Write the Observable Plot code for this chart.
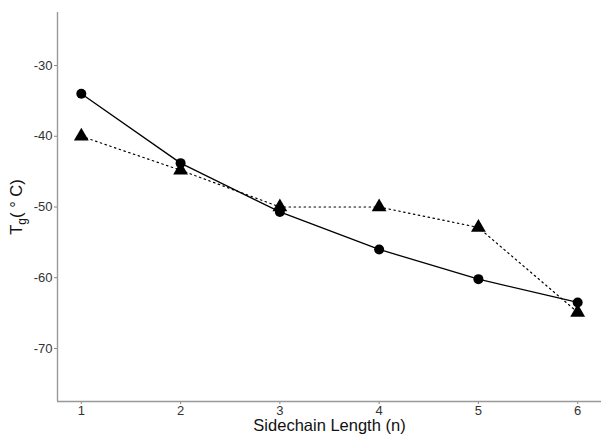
<!DOCTYPE html>
<html><head><meta charset="utf-8">
<script src="https://cdn.jsdelivr.net/npm/d3@7"></script>
<script src="https://cdn.jsdelivr.net/npm/@observablehq/plot@0.6"></script>
<style>body{margin:0;background:#fff}</style>
</head><body><div id="chart"></div>
<script>
const lengths = [1, 2, 3, 4, 5, 6];
const circleSeries = [-34, -43.8, -50.7, -56, -60.2, -63.5];
const triangleSeries = [-40, -44.8, -50, -50, -52.9, -64.9];
const yTicks = [-70, -60, -50, -40, -30];
const xTicks = [1, 2, 3, 4, 5, 6];

const circ = lengths.map((n, i) => ({n, tg: circleSeries[i]}));
const tri = lengths.map((n, i) => ({n, tg: triangleSeries[i]}));

const xDom = [0.76, 6.24], yDom = [-77.5, -22.5];
const plot = Plot.plot({
  width: 601, height: 435,
  marginLeft: 57, marginRight: 0, marginTop: 12, marginBottom: 34,
  style: {fontFamily: "Liberation Sans, Arial, sans-serif", fontSize: "13px", color: "#333"},
  x: {domain: xDom, ticks: xTicks, label: null},
  y: {domain: yDom, ticks: yTicks, label: null},
  marks: [
    Plot.axisX({ticks: xTicks, tickFormat: d => String(d), tickSize: 3, tickPadding: 1, fontSize: 13, color: "#333", stroke: "#888"}),
    Plot.axisY({ticks: yTicks, tickFormat: d => String(d), tickSize: 3, tickPadding: 2, fontSize: 13, color: "#333", stroke: "#888"}),
    Plot.ruleX([xDom[0]], {stroke: "#999", strokeWidth: 1.4}),
    Plot.ruleY([yDom[0]], {stroke: "#999", strokeWidth: 1.4}),
    Plot.line(tri, {x: "n", y: "tg", stroke: "#000", strokeWidth: 1.2, strokeDasharray: "1.5,3.5"}),
    Plot.line(circ, {x: "n", y: "tg", stroke: "#000", strokeWidth: 1.3}),
    Plot.dot(tri, {x: "n", y: "tg", symbol: "triangle", r: 5.5, fill: "#000"}),
    Plot.dot(circ, {x: "n", y: "tg", symbol: "circle", r: 5, fill: "#000"}),
    Plot.text(["Sidechain Length (n)"], {frameAnchor: "bottom", dy: 29, fontSize: 16.5, fill: "#111"}),
    Plot.text(["Tg( ° C)"], {frameAnchor: "left", dx: -36, rotate: -90, textAnchor: "middle", lineAnchor: "bottom", fontSize: 16.5, fill: "#111", className: "ylab"})
  ]
});
document.getElementById("chart").appendChild(plot);
// rich y label with subscript
const t = plot.querySelector(".ylab text");
if (t) {
  t.textContent = "";
  const ns = "http://www.w3.org/2000/svg";
  const a = document.createElementNS(ns, "tspan"); a.textContent = "T";
  const b = document.createElementNS(ns, "tspan"); b.textContent = "g"; b.setAttribute("font-size", "12"); b.setAttribute("dy", "4");
  const c = document.createElementNS(ns, "tspan"); c.textContent = "( \u00B0 C)"; c.setAttribute("dy", "-4");
  t.append(a, b, c);
}
</script></body></html>
